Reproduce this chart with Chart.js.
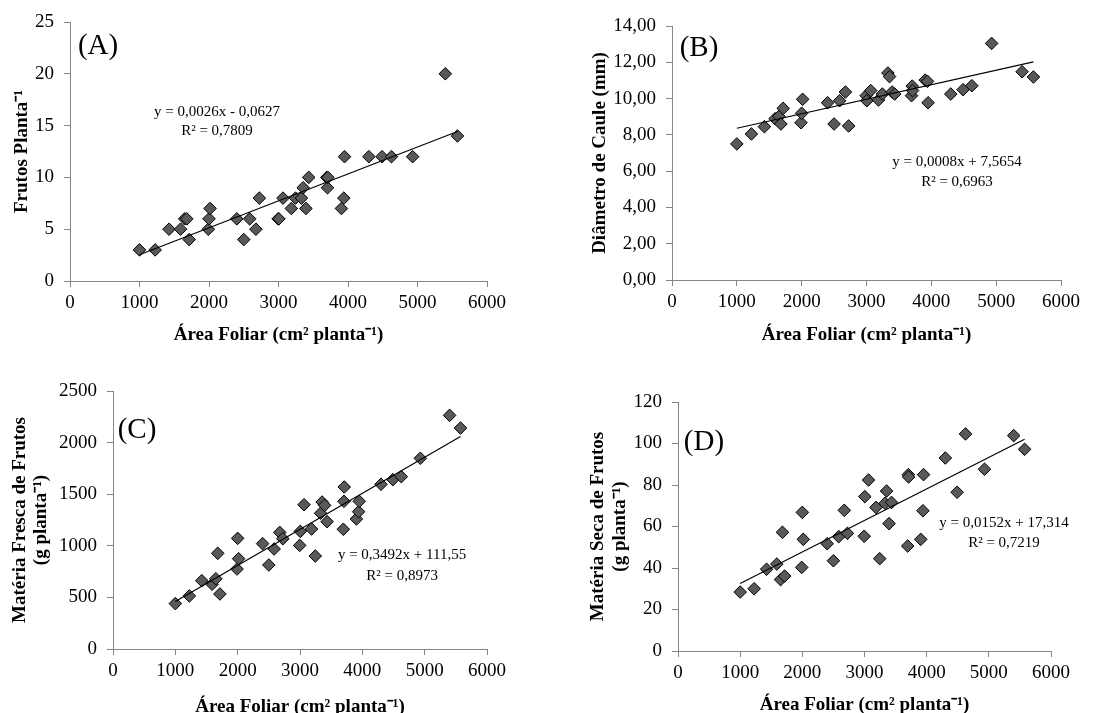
<!DOCTYPE html>
<html>
<head>
<meta charset="utf-8">
<script src="https://cdn.jsdelivr.net/npm/chart.js@4"></script>
<style>
  html, body { margin: 0; padding: 0; background: #fff; overflow: hidden; }
  body { width: 1119px; height: 713px; position: relative; }
  .panel { position: absolute; }
</style>
</head>
<body>
<div class="panel" style="left:0;top:0"><canvas id="chartA" width="560" height="350"></canvas></div>
<div class="panel" style="left:560px;top:0"><canvas id="chartB" width="559" height="350"></canvas></div>
<div class="panel" style="left:0;top:330px"><canvas id="chartC" width="560" height="390"></canvas></div>
<div class="panel" style="left:560px;top:330px"><canvas id="chartD" width="559" height="390"></canvas></div>
<script>
// área foliar (cm2 planta-1), same plants in the four panels
const areaFoliar = [1000, 1225, 1425, 1590, 1650, 1680, 1715, 1990, 2000, 2015, 2400, 2500, 2585, 2675, 2725,
  2995, 3005, 3065, 3185, 3245, 3330, 3355, 3395, 3435, 3695, 3705, 3710, 3905, 3940, 3950,
  4300, 4490, 4625, 4930, 5400, 5575];

const frutos = [3, 3, 5, 5, 6, 6, 4, 5, 6, 7, 6, 4, 6, 5, 8, 6, 6, 8, 7, 8, 8, 9, 7, 10, 10, 9, 10, 7, 8, 12,
  12, 12, 12, 12, 20, 14];
const diametro = [7.50, 8.05, 8.45, 8.89, 9.02, 8.60, 9.46, 8.67, 9.19, 9.96, 9.77, 8.60, 9.88, 10.36, 8.49,
  10.16, 9.88, 10.44, 9.92, 10.25, 11.41, 11.21, 10.36, 10.25, 10.16, 10.69, 10.44, 11.02, 10.95, 9.77,
  10.25, 10.49, 10.71, 13.04, 11.48, 11.19];
const fresca = [440, 514, 662, 627, 681, 927, 533, 775, 1072, 875, 1021, 814, 969, 1130, 1069,
  1004, 1140, 1398, 1163, 901, 1315, 1424, 1392, 1234, 1160, 1431, 1570, 1260, 1331, 1431,
  1596, 1641, 1670, 1848, 2264, 2141];
const seca = [28.4, 30.0, 39.4, 41.9, 34.4, 57.2, 36.1, 40.3, 66.8, 53.8, 51.7, 43.5, 55.1, 67.8, 56.7,
  55.3, 74.4, 82.4, 69.2, 44.5, 71.2, 77.1, 61.4, 71.6, 50.6, 85.0, 83.9, 53.8, 67.6, 85.0,
  93.0, 76.5, 104.6, 87.6, 103.8, 97.2];

// linear trend, coefficients as printed on the chart
const slopes = [0.0026, 0.0008, 0.3492, 0.0152];
const intercepts = [-0.0627, 7.5654, 111.55, 17.314];
const equations = ['y = 0,0026x - 0,0627', 'y = 0,0008x + 7,5654', 'y = 0,3492x + 111,55', 'y = 0,0152x + 17,314'];
const r2Labels = ['R² = 0,7809', 'R² = 0,6963', 'R² = 0,8973', 'R² = 0,7219'];
const panelLabels = ['(A)', '(B)', '(C)', '(D)'];

const xTicks = [0, 1000, 2000, 3000, 4000, 5000, 6000];
const xTitle = 'Área Foliar (cm² planta⁻¹)';

const SERIF = "'Liberation Serif', 'Times New Roman', serif";
const axisColor = '#868686';

// draws the panel letter and the equation text
const textPlugin = {
  id: 'panelText',
  afterDatasetsDraw(chart, args, opts) {
    const { ctx, scales: { x, y } } = chart;
    ctx.save();
    ctx.fillStyle = '#000';
    ctx.textAlign = 'center';
    ctx.textBaseline = 'middle';
    opts.items.forEach(it => {
      ctx.font = it.font;
      ctx.fillText(it.text, x.getPixelForValue(it.x), y.getPixelForValue(it.y));
    });
    ctx.restore();
  }
};

function makeChart(id, idx, yValues, cfg) {
  const points = areaFoliar.map((x, i) => ({ x: x, y: yValues[i] }));
  const xMin = Math.min(...areaFoliar), xMax = Math.max(...areaFoliar);
  const trend = [xMin, xMax].map(x => ({ x: x, y: slopes[idx] * x + intercepts[idx] }));
  const g = cfg.box;

  new Chart(document.getElementById(id), {
    type: 'scatter',
    data: {
      datasets: [
        { type: 'line', data: trend, borderColor: '#000', borderWidth: 1.2, pointRadius: 0, order: 0 },
        {
          data: points, pointStyle: 'rectRot', pointRadius: 6.3,
          backgroundColor: '#595959', borderColor: '#000', borderWidth: 1, order: 1
        }
      ]
    },
    options: {
      responsive: false,
      animation: false,
      devicePixelRatio: 1,
      layout: { padding: { left: g.pl, right: g.W - g.right, top: g.top, bottom: g.pb } },
      plugins: {
        legend: { display: false },
        tooltip: { enabled: false },
        panelText: {
          items: [
            { text: panelLabels[idx], x: cfg.label[0], y: cfg.label[1], font: '29px ' + SERIF },
            { text: equations[idx], x: cfg.eq[0], y: cfg.eq[1], font: '15px ' + SERIF },
            { text: r2Labels[idx], x: cfg.eq[0], y: cfg.eq[2], font: '15px ' + SERIF }
          ]
        }
      },
      scales: {
        x: {
          type: 'linear', min: 0, max: 6000,
          afterBuildTicks: s => { s.ticks = xTicks.map(v => ({ value: v })); },
          afterFit: s => { s.height = g.H - g.pb - g.bottom; },
          border: { color: axisColor, width: 1 },
          grid: { drawOnChartArea: false, drawTicks: true, tickLength: 6, color: axisColor },
          ticks: {
            color: '#000', font: { family: SERIF, size: 19 }, padding: 5, maxRotation: 0,
            callback: v => String(v)
          },
          title: {
            display: true, text: xTitle, color: '#000',
            font: { family: SERIF, size: 19, weight: 'bold', lineHeight: 1.2 },
            padding: { top: 0, bottom: cfg.xTitlePad }
          }
        },
        y: {
          type: 'linear', min: 0, max: cfg.yMax,
          afterFit: s => { s.width = g.left - g.pl; },
          border: { color: axisColor, width: 1 },
          grid: { drawOnChartArea: false, drawTicks: true, tickLength: 6, color: axisColor },
          ticks: {
            stepSize: cfg.yStep, color: '#000', font: { family: SERIF, size: 19 }, padding: 10,
            callback: cfg.yFormat || (v => String(v))
          },
          title: {
            display: true, text: cfg.yTitle, color: '#000',
            font: { family: SERIF, size: 19, weight: 'bold', lineHeight: cfg.yLine || 1.2 },
            padding: { top: 4, bottom: 0 }
          }
        }
      }
    },
    plugins: [textPlugin]
  });
}

makeChart('chartA', 0, frutos, {
  box: { W: 560, H: 350, pl: 7, pb: 0, left: 70, right: 487, top: 22, bottom: 281 },
  yMax: 25, yStep: 5, yTitle: 'Frutos Planta⁻¹', xTitlePad: 4,
  label: [403, 22.6], eq: [2115, 16.3, 14.5]
});

makeChart('chartB', 1, diametro, {
  box: { W: 559, H: 350, pl: 25, pb: 0, left: 112, right: 501, top: 26, bottom: 280 },
  yMax: 14, yStep: 2, yTitle: 'Diâmetro de Caule (mm)', xTitlePad: 4,
  yFormat: v => v.toFixed(2).replace('.', ','),
  label: [416, 12.79], eq: [4396, 6.5, 5.4]
});

makeChart('chartC', 2, fresca, {
  box: { W: 560, H: 390, pl: 6, pb: 0, left: 113, right: 487, top: 61, bottom: 319 },
  yMax: 2500, yStep: 500, yTitle: ['Matéria Fresca de Frutos', '(g planta⁻¹)'], yLine: 1.1, xTitlePad: 2,
  label: [385, 2122], eq: [4637, 911, 707]
});

makeChart('chartD', 3, seca, {
  box: { W: 559, H: 390, pl: 23, pb: 0, left: 118, right: 491, top: 72, bottom: 321 },
  yMax: 120, yStep: 20, yTitle: ['Matéria Seca de Frutos', '(g planta⁻¹)'], yLine: 1.15, xTitlePad: 4,
  label: [418, 100.7], eq: [5244, 61.7, 52.0]
});
</script>
</body>
</html>
